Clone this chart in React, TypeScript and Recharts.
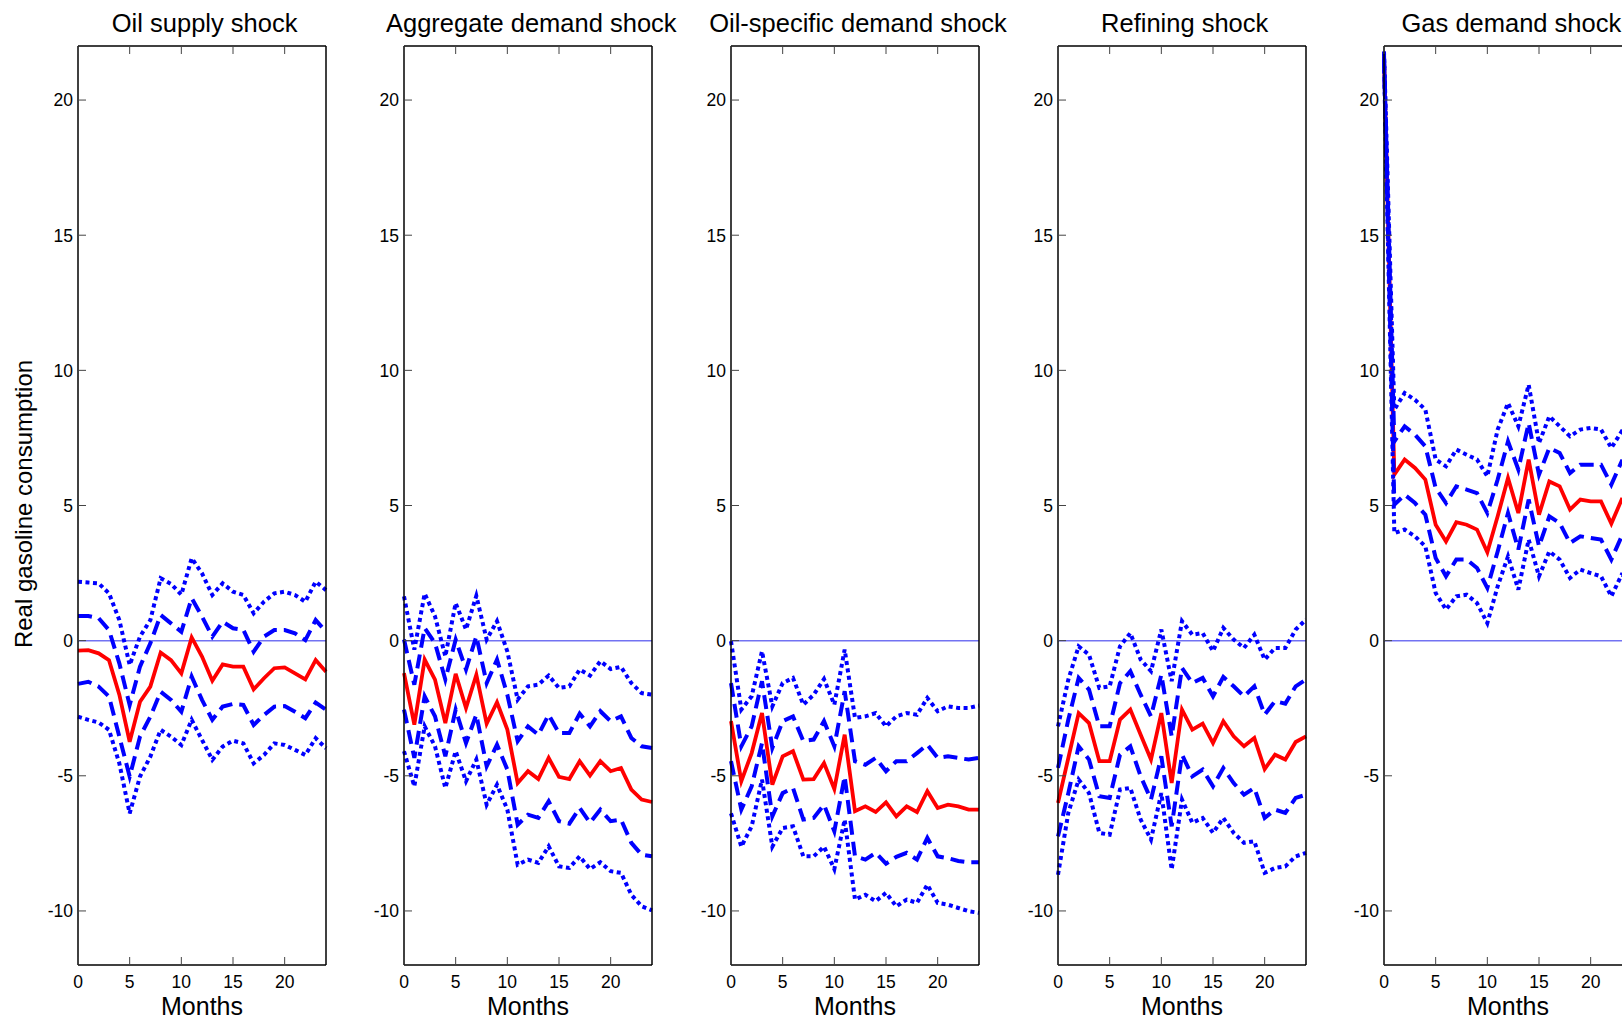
import React from 'react';
import { LineChart, Line, XAxis, YAxis } from 'recharts';

const months = [0, 1, 2, 3, 4, 5, 6, 7, 8, 9, 10, 11, 12, 13, 14, 15, 16, 17, 18, 19, 20, 21, 22, 23, 24];
const xTicks = [0, 5, 10, 15, 20];
const yTicks = [-10, -5, 0, 5, 10, 15, 20];

// Oil supply shock
const supplyMed = [-0.37, -0.35, -0.47, -0.72, -2.0, -3.74, -2.26, -1.7, -0.44, -0.72, -1.21, 0.12, -0.59, -1.48, -0.88, -0.96, -0.96, -1.8, -1.39, -1.02, -0.99, -1.21, -1.43, -0.72, -1.15];
const supplyHi = [0.91, 0.91, 0.83, 0.39, -0.84, -2.38, -0.96, -0.1, 0.95, 0.64, 0.33, 1.57, 0.89, 0.15, 0.7, 0.46, 0.4, -0.41, 0.15, 0.39, 0.39, 0.27, 0.02, 0.76, 0.33];
const supplyLo = [-1.6, -1.52, -1.7, -2.07, -3.55, -5.03, -3.55, -2.81, -1.89, -2.19, -2.63, -1.33, -2.19, -2.93, -2.44, -2.34, -2.38, -3.12, -2.75, -2.44, -2.42, -2.63, -2.87, -2.29, -2.56];
const supplyHi2 = [2.18, 2.15, 2.12, 1.75, 0.76, -0.9, 0.15, 0.76, 2.31, 2.1, 1.7, 3.05, 2.49, 1.69, 2.12, 1.81, 1.69, 1.01, 1.44, 1.75, 1.81, 1.69, 1.44, 2.18, 1.87];
const supplyLo2 = [-2.81, -2.93, -3.03, -3.3, -4.54, -6.39, -5.03, -4.29, -3.3, -3.55, -3.86, -2.93, -3.67, -4.41, -3.92, -3.7, -3.8, -4.54, -4.23, -3.8, -3.86, -4.04, -4.23, -3.61, -3.98];

// Aggregate demand shock
const aggMed = [-1.2, -3.11, -0.7, -1.44, -3.05, -1.23, -2.49, -1.26, -3.07, -2.28, -3.29, -5.27, -4.83, -5.12, -4.34, -5.04, -5.12, -4.46, -4.99, -4.46, -4.83, -4.71, -5.51, -5.88, -5.97];
const aggHi = [0.04, -1.63, 0.47, -0.09, -1.44, 0.04, -1.07, 0.16, -1.57, -0.7, -2.0, -3.72, -3.17, -3.48, -2.74, -3.42, -3.42, -2.7, -3.17, -2.61, -2.98, -2.8, -3.6, -3.91, -3.97];
const aggLo = [-2.55, -4.34, -2.06, -2.8, -4.28, -2.55, -3.79, -2.74, -4.65, -3.85, -4.77, -6.81, -6.44, -6.56, -5.94, -6.68, -6.77, -6.19, -6.74, -6.25, -6.68, -6.62, -7.48, -7.92, -7.98];
const aggHi2 = [1.64, -0.33, 1.74, 0.9, -0.58, 1.39, 0.41, 1.66, 0.04, 0.72, -0.4, -2.18, -1.69, -1.63, -1.29, -1.75, -1.69, -1.07, -1.29, -0.76, -1.05, -0.97, -1.57, -1.94, -2.0];
const aggLo2 = [-4.09, -5.39, -3.17, -3.91, -5.45, -4.09, -5.2, -4.4, -6.07, -5.33, -6.25, -8.29, -8.1, -8.22, -7.61, -8.35, -8.41, -7.98, -8.45, -8.2, -8.53, -8.59, -9.4, -9.83, -9.98];

// Oil-specific demand shock
const oilMed = [-2.98, -5.2, -4.16, -2.68, -5.33, -4.28, -4.09, -5.14, -5.12, -4.53, -5.49, -3.48, -6.31, -6.13, -6.34, -5.98, -6.5, -6.13, -6.34, -5.57, -6.19, -6.07, -6.13, -6.25, -6.25];
const oilHi = [-1.57, -3.91, -3.17, -1.5, -3.97, -2.98, -2.8, -3.72, -3.66, -2.98, -3.91, -1.87, -4.46, -4.59, -4.34, -4.83, -4.46, -4.46, -4.16, -3.85, -4.34, -4.28, -4.34, -4.4, -4.34];
const oilLo = [-4.46, -6.25, -5.39, -3.79, -6.5, -5.64, -5.45, -6.62, -6.56, -6.07, -7.05, -5.02, -7.98, -8.1, -7.85, -8.25, -8.0, -7.85, -8.1, -7.3, -7.98, -8.05, -8.15, -8.2, -8.2];
const oilHi2 = [-0.02, -2.55, -2.06, -0.39, -2.43, -1.57, -1.38, -2.37, -2.0, -1.42, -2.37, -0.33, -2.86, -2.8, -2.68, -3.17, -2.8, -2.68, -2.74, -2.12, -2.61, -2.43, -2.49, -2.49, -2.4];
const oilLo2 = [-6.39, -7.62, -6.87, -5.14, -7.62, -6.93, -6.87, -7.98, -7.98, -7.62, -8.45, -6.62, -9.58, -9.4, -9.64, -9.33, -9.83, -9.58, -9.7, -9.03, -9.7, -9.77, -9.89, -10.01, -10.07];

// Refining shock
const refMed = [-6.0, -4.34, -2.68, -3.05, -4.46, -4.46, -2.92, -2.55, -3.48, -4.4, -2.68, -5.27, -2.55, -3.29, -3.07, -3.79, -2.98, -3.54, -3.91, -3.6, -4.75, -4.22, -4.4, -3.75, -3.54];
const refHi = [-4.71, -2.92, -1.38, -1.81, -3.17, -3.17, -1.57, -1.13, -2.0, -2.8, -1.26, -3.54, -1.01, -1.57, -1.38, -2.06, -1.34, -1.69, -2.06, -1.69, -2.74, -2.24, -2.33, -1.69, -1.44];
const refLo = [-7.24, -5.64, -3.91, -4.4, -5.76, -5.82, -4.22, -3.91, -5.02, -5.88, -4.28, -6.87, -4.22, -5.02, -4.77, -5.39, -4.71, -5.27, -5.7, -5.45, -6.56, -6.25, -6.37, -5.82, -5.7];
const refHi2 = [-3.17, -1.44, -0.21, -0.52, -1.75, -1.69, -0.21, 0.28, -0.7, -1.13, 0.41, -1.5, 0.72, 0.22, 0.28, -0.39, 0.47, 0.04, -0.27, 0.22, -0.7, -0.27, -0.27, 0.41, 0.78];
const refLo2 = [-8.66, -6.37, -5.14, -5.64, -7.11, -7.18, -5.51, -5.45, -6.62, -7.36, -5.64, -8.47, -5.88, -6.74, -6.56, -7.11, -6.56, -7.11, -7.48, -7.42, -8.59, -8.41, -8.35, -7.98, -7.85];

// Gas demand shock
const gasMed = [21.6, 6.14, 6.7, 6.39, 5.96, 4.29, 3.67, 4.38, 4.29, 4.11, 3.27, 4.6, 6.02, 4.72, 6.7, 4.66, 5.89, 5.71, 4.85, 5.22, 5.15, 5.15, 4.33, 5.22, 5.1];
const gasHi = [21.7, 7.37, 7.93, 7.62, 7.19, 5.65, 5.09, 5.71, 5.59, 5.46, 4.72, 5.96, 7.37, 6.33, 8.05, 6.14, 7.13, 6.94, 6.2, 6.51, 6.51, 6.51, 5.77, 6.63, 6.5];
const gasLo = [21.5, 5.03, 5.4, 5.09, 4.66, 3.06, 2.38, 3.0, 3.0, 2.69, 1.95, 3.3, 4.72, 3.37, 5.22, 3.49, 4.6, 4.35, 3.61, 3.86, 3.8, 3.74, 3.0, 3.86, 3.7];
const gasHi2 = [21.8, 8.55, 9.16, 8.91, 8.55, 6.7, 6.45, 7.07, 6.88, 6.7, 6.08, 7.81, 8.79, 7.93, 9.47, 7.31, 8.3, 7.93, 7.56, 7.81, 7.87, 7.81, 7.13, 7.74, 7.6];
const gasLo2 = [21.4, 3.98, 4.11, 3.86, 3.49, 1.76, 1.15, 1.64, 1.7, 1.39, 0.65, 2.01, 3.12, 1.89, 3.74, 2.38, 3.3, 3.0, 2.32, 2.63, 2.5, 2.38, 1.64, 2.44, 2.3];

const panels = [
  { title: 'Oil supply shock', med: supplyMed, hi: supplyHi, lo: supplyLo, hi2: supplyHi2, lo2: supplyLo2 },
  { title: 'Aggregate demand shock', med: aggMed, hi: aggHi, lo: aggLo, hi2: aggHi2, lo2: aggLo2 },
  { title: 'Oil-specific demand shock', med: oilMed, hi: oilHi, lo: oilLo, hi2: oilHi2, lo2: oilLo2 },
  { title: 'Refining shock', med: refMed, hi: refHi, lo: refLo, hi2: refHi2, lo2: refLo2 },
  { title: 'Gas demand shock', med: gasMed, hi: gasHi, lo: gasLo, hi2: gasHi2, lo2: gasLo2 },
];

const FONT = '"Liberation Sans", Arial, Helvetica, sans-serif';
const PLOT_W = 248;
const AXIS_W = 60;
const TICK = 8;
const TICK_FONT = 17.5;

const BottomTick = ({ x, y, payload }: any) => (
  <g>
    <line x1={x} y1={y} x2={x} y2={y - TICK} stroke="#444" strokeWidth={1} />
    <text x={x} y={y + 17} textAnchor="middle" dy="0.36em" fontSize={TICK_FONT} fill="#000" fontFamily={FONT}>
      {payload.value}
    </text>
  </g>
);

const TopTick = ({ x, y }: any) => (
  <line x1={x} y1={y} x2={x} y2={y + TICK} stroke="#444" strokeWidth={1} />
);

const LeftTick = ({ x, y, payload }: any) => (
  <g>
    <line x1={x} y1={y} x2={x + TICK} y2={y} stroke="#444" strokeWidth={1} />
    <text x={x - 5} y={y} textAnchor="end" dy="0.36em" fontSize={TICK_FONT} fill="#000" fontFamily={FONT}>
      {payload.value}
    </text>
  </g>
);

const RightTick = ({ x, y }: any) => (
  <line x1={x} y1={y} x2={x - TICK} y2={y} stroke="#444" strokeWidth={1} />
);

const Panel = ({ p, left }: { p: typeof panels[0]; left: number }) => {
  const data = months.map((m, i) => ({
    m,
    zero: 0,
    med: p.med[i],
    hi: p.hi[i],
    lo: p.lo[i],
    hi2: p.hi2[i],
    lo2: p.lo2[i],
  }));
  const dashed = { stroke: '#0000ff', strokeWidth: 4, strokeDasharray: '14 7', dot: false, isAnimationActive: false };
  const dotted = { stroke: '#0000ff', strokeWidth: 4, strokeDasharray: '4 3.5', dot: false, isAnimationActive: false };
  return (
    <>
      <div
        style={{
          position: 'absolute', left: left - 100 + 3, top: 11, width: PLOT_W + 200, height: 25, lineHeight: '25px',
          fontSize: 25.5, textAlign: 'center', whiteSpace: 'nowrap', color: '#000',
        }}
      >
        {p.title}
      </div>
      <div style={{ position: 'absolute', left: left - AXIS_W, top: 0 }}>
        <LineChart width={AXIS_W + PLOT_W + 2} height={1019} data={data} margin={{ top: 45, right: 1, left: 0, bottom: 0 }}>
          <XAxis
            dataKey="m" type="number" domain={[0, 24]} ticks={xTicks} interval={0}
            height={54} tickSize={0} tickMargin={0} tickLine={false}
            axisLine={{ stroke: '#000', strokeWidth: 1.5 }} tick={<BottomTick />}
            label={{ value: 'Months', position: 'insideBottom', offset: 4, fontSize: 25, fill: '#000' }}
          />
          <XAxis
            xAxisId="top" orientation="top" dataKey="m" type="number" domain={[0, 24]} ticks={xTicks}
            interval={0} height={1} tickSize={0} tickMargin={0} tickLine={false}
            axisLine={{ stroke: '#000', strokeWidth: 1.5 }} tick={<TopTick />}
          />
          <YAxis
            type="number" domain={[-12, 22]} ticks={yTicks} interval={0} width={AXIS_W}
            tickSize={0} tickMargin={0} tickLine={false} allowDataOverflow
            axisLine={{ stroke: '#000', strokeWidth: 1.5 }} tick={<LeftTick />}
          />
          <YAxis
            yAxisId="right" orientation="right" type="number" domain={[-12, 22]} ticks={yTicks}
            interval={0} width={1} tickSize={0} tickMargin={0} tickLine={false}
            axisLine={{ stroke: '#000', strokeWidth: 1.5 }} tick={<RightTick />}
          />
          <Line dataKey="zero" stroke="#7272f2" strokeWidth={1.5} dot={false} isAnimationActive={false} />
          <Line dataKey="med" stroke="#ff0000" strokeWidth={3.8} dot={false} isAnimationActive={false} />
          <Line dataKey="hi" {...dashed} />
          <Line dataKey="lo" {...dashed} />
          <Line dataKey="hi2" {...dotted} />
          <Line dataKey="lo2" {...dotted} />
        </LineChart>
      </div>
    </>
  );
};

export default function App() {
  return (
    <div
      style={{
        position: 'fixed', left: 0, top: 0, width: 1622, height: 1019, overflow: 'hidden',
        background: '#fff', fontFamily: FONT,
      }}
    >
      <div
        style={{
          position: 'absolute', left: 24 - 200, top: 504 - 12, width: 400, height: 24,
          lineHeight: '24px', fontSize: 24, textAlign: 'center', transform: 'rotate(-90deg)',
          whiteSpace: 'nowrap', color: '#000',
        }}
      >
        Real gasoline consumption
      </div>
      {panels.map((p, i) => (
        <Panel key={p.title} p={p} left={77.6 + 326.7 * i} />
      ))}
    </div>
  );
}
